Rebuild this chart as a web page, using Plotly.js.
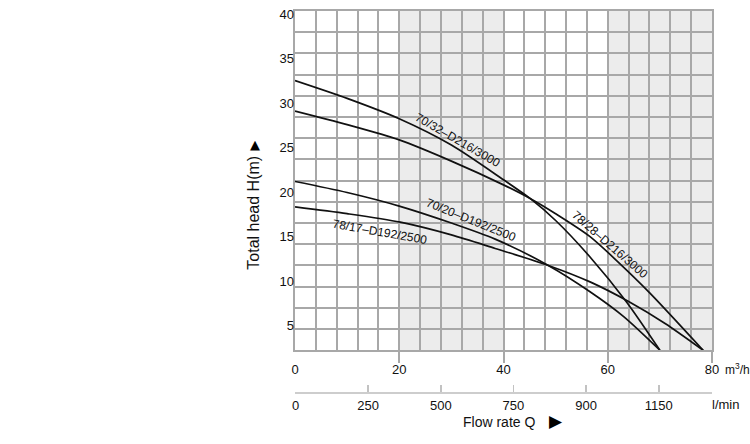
<!DOCTYPE html>
<html><head><meta charset="utf-8">
<script src="https://cdn.plot.ly/plotly-3.0.1.min.js"></script>
<style>html,body{margin:0;padding:0;background:#fff}#chart{width:750px;height:444px}</style>
</head><body><div id="chart"></div>
<script>
// ---- data (m3/h , m) ----
const flowTicksM3h = [0, 20, 40, 60, 80];
const flowTickLabelsLmin = ['0', '250', '500', '750', '900', '1150'];
const headTicks = [5, 10, 15, 20, 25, 30, 35, 40];
const shadedBands = [[20, 40], [60, 80]];

const curveNames = ['70/32–D216/3000', '78/28–D216/3000', '70/20–D192/2500', '78/17–D192/2500'];

const q_70_32 = [0, 10, 20, 30, 40, 45.1, 50, 56.6, 63.6, 70];
const h_70_32 = [31.8, 29.7, 27.3, 24.2, 20.1, 17.9, 15.3, 11.0, 5.7, 0];

const q_78_28 = [0, 10, 20, 30, 40, 45.1, 50, 56.6, 62, 68, 78.3];
const h_78_28 = [28.2, 26.6, 24.8, 22.3, 19.5, 17.9, 16.1, 13.4, 10.4, 6.8, 0];

const q_70_20 = [0, 10, 20, 30, 38.4, 48.6, 56.6, 63, 70];
const h_70_20 = [19.9, 18.6, 17.0, 15.0, 13.1, 10.0, 6.9, 4.0, 0];

const q_78_17 = [0, 10, 20.2, 30, 38.4, 48.6, 56.6, 64, 71, 78.3];
const h_78_17 = [16.9, 16.1, 15.1, 13.6, 12.0, 10.0, 8.06, 5.75, 3.16, 0];

// ---- styling / placement ----
const GRID = '#a8a8a8';
const FONT = 'Liberation Sans, Arial, Helvetica, sans-serif';
const labelPlacement = [
  {x: 31.2, y: 24.8, angle: 30},
  {x: 60.5, y: 12.4, angle: 41},
  {x: 33.8, y: 15.3, angle: 22},
  {x: 16.4, y: 13.9, angle: 10}
];

const series = [[q_70_32, h_70_32], [q_78_28, h_78_28], [q_70_20, h_70_20], [q_78_17, h_78_17]];

const traces = series.map((s, i) => ({
  type: 'scatter', mode: 'lines', x: s[0], y: s[1], name: curveNames[i],
  line: {color: '#111', width: 1.7, shape: 'spline', smoothing: 0.8},
  hoverinfo: 'skip', xaxis: 'x', yaxis: 'y'
}));
// empty carriers so the helper axes exist
traces.push({type: 'scatter', x: [], y: [], xaxis: 'x', yaxis: 'y2', hoverinfo: 'skip'});
traces.push({type: 'scatter', x: [], y: [], xaxis: 'x2', yaxis: 'y', hoverinfo: 'skip'});
traces.push({type: 'scatter', x: [], y: [], xaxis: 'x3', yaxis: 'y', hoverinfo: 'skip'});
traces.push({type: 'scatter', x: [], y: [], xaxis: 'x4', yaxis: 'y', hoverinfo: 'skip'});

const annotations = curveNames.map((n, i) => ({
  xref: 'x', yref: 'y', x: labelPlacement[i].x, y: labelPlacement[i].y,
  text: n, textangle: labelPlacement[i].angle, showarrow: false,
  font: {family: FONT, size: 12, color: '#111'}
}));
annotations.push(
  {xref: 'paper', yref: 'paper', x: 1.0255, y: 0.0625, xanchor: 'left', yanchor: 'middle', text: 'm<sup>3</sup>/h', showarrow: false, font: {family: FONT, size: 12, color: '#111'}},
  {xref: 'paper', yref: 'paper', x: 0.995, y: -0.0296, xanchor: 'left', yanchor: 'middle', text: 'l/min', showarrow: false, font: {family: FONT, size: 13, color: '#111'}},
  {xref: 'paper', yref: 'paper', x: 0.4898, y: -0.076, xanchor: 'center', yanchor: 'middle', text: 'Flow rate Q', showarrow: false, font: {family: FONT, size: 14, color: '#111'}},
  {xref: 'paper', yref: 'paper', x: 0.625, y: -0.0734, xanchor: 'center', yanchor: 'middle', text: '▶', showarrow: false, font: {family: 'DejaVu Sans', size: 17, color: '#000'}},
  {xref: 'paper', yref: 'paper', x: -0.0994, y: 0.4708, xanchor: 'center', yanchor: 'middle', text: 'Total head H(m)', textangle: -90, showarrow: false, font: {family: FONT, size: 16, color: '#111'}},
  {xref: 'paper', yref: 'paper', x: -0.0953, y: 0.6497, xanchor: 'center', yanchor: 'middle', text: '▲', showarrow: false, font: {family: 'DejaVu Sans', size: 13, color: '#000'}}
);

const layout = {
  width: 750, height: 444,
  margin: {l: 294.5, r: 38, t: 11, b: 51.3, pad: 0},
  paper_bgcolor: '#fff', plot_bgcolor: '#fff',
  showlegend: false,
  font: {family: FONT, size: 13, color: '#111'},
  xaxis: {range: [0, 80], tickmode: 'linear', tick0: 0, dtick: 4, showgrid: true, gridcolor: GRID, gridwidth: 2,
          showticklabels: false, ticks: '', zeroline: false, showline: true, mirror: true, linecolor: GRID, linewidth: 2, fixedrange: true},
  yaxis: {domain: [0.1119, 1], range: [0, 40], tickmode: 'linear', tick0: 0, dtick: 2.5, showgrid: true, gridcolor: GRID, gridwidth: 2,
          showticklabels: false, ticks: '', zeroline: false, showline: true, mirror: true, linecolor: GRID, linewidth: 2, fixedrange: true},
  yaxis2: {overlaying: 'y', anchor: 'x', side: 'left', range: [2.223, 40.337], tickmode: 'array', tickvals: headTicks,
           ticktext: headTicks.map(String), showgrid: false, zeroline: false, showline: false, ticks: '', fixedrange: true,
           tickfont: {family: FONT, size: 13, color: '#111'}},
  xaxis2: {overlaying: 'x', anchor: 'y', side: 'bottom', range: [0, 80], tickmode: 'array', tickvals: flowTicksM3h,
           ticktext: flowTicksM3h.map(String), ticks: 'outside', ticklen: 7, tickcolor: 'rgba(0,0,0,0)',
           showgrid: false, zeroline: false, showline: false, fixedrange: true, tickfont: {family: FONT, size: 13, color: '#111'}},
  xaxis3: {overlaying: 'x', anchor: 'y', side: 'bottom', range: [0, 80], tickmode: 'array', tickvals: flowTicksM3h.filter(v => v > 0),
           ticks: 'outside', ticklen: 12, tickwidth: 2, tickcolor: GRID, showticklabels: false,
           showgrid: false, zeroline: false, showline: false, fixedrange: true},
  xaxis4: {overlaying: 'x', anchor: 'free', position: 0, side: 'bottom', range: [-0.007, 5.733], tickmode: 'array',
           tickvals: flowTickLabelsLmin.map((_, i) => i), ticktext: flowTickLabelsLmin, ticks: 'inside', ticklen: 7, tickwidth: 1.5,
           tickcolor: '#c2c2c2', showline: true, linecolor: '#cdcdcd', linewidth: 2, showgrid: false, zeroline: false, fixedrange: true,
           tickfont: {family: FONT, size: 13, color: '#111'}},
  shapes: shadedBands.map(b => ({type: 'rect', xref: 'x', yref: 'y', x0: b[0], x1: b[1], y0: 0, y1: 40,
                                 fillcolor: '#ececec', line: {width: 0}, layer: 'below'})),
  annotations: annotations
};

Plotly.newPlot('chart', traces, layout, {displayModeBar: false, staticPlot: true});
</script>
</body></html>
